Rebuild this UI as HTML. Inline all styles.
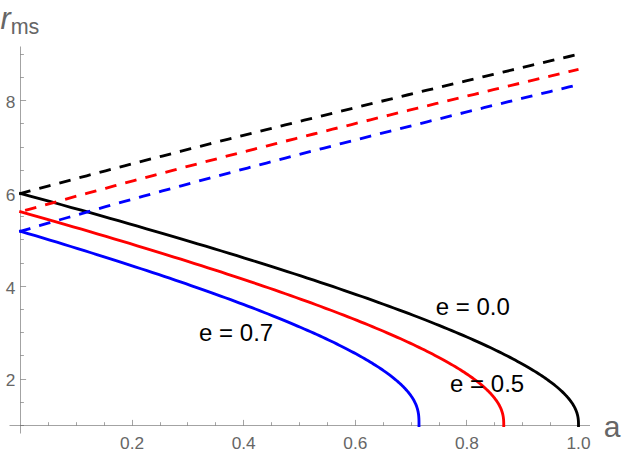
<!DOCTYPE html>
<html><head><meta charset="utf-8"><style>
html,body{margin:0;padding:0;background:#fff;}
svg{display:block;font-family:"Liberation Sans",sans-serif;}
</style></head><body>
<svg width="623" height="454" viewBox="0 0 623 454">
<rect width="623" height="454" fill="#ffffff"/>
<line x1="9.5" y1="425.5" x2="590" y2="425.5" stroke="#666666" stroke-opacity="0.6" stroke-width="1"/>
<line x1="20.5" y1="46.5" x2="20.5" y2="433.5" stroke="#666666" stroke-opacity="0.6" stroke-width="1"/>
<line x1="20.5" y1="425.5" x2="24" y2="425.5" stroke="#666666" stroke-opacity="0.6" stroke-width="1"/>
<line x1="48.50" y1="425.5" x2="48.50" y2="422.20" stroke="#666666" stroke-opacity="0.6" stroke-width="1"/>
<line x1="76.50" y1="425.5" x2="76.50" y2="422.20" stroke="#666666" stroke-opacity="0.6" stroke-width="1"/>
<line x1="104.50" y1="425.5" x2="104.50" y2="422.20" stroke="#666666" stroke-opacity="0.6" stroke-width="1"/>
<line x1="132.50" y1="425.5" x2="132.50" y2="419.90" stroke="#666666" stroke-opacity="0.6" stroke-width="1"/>
<line x1="160.50" y1="425.5" x2="160.50" y2="422.20" stroke="#666666" stroke-opacity="0.6" stroke-width="1"/>
<line x1="187.50" y1="425.5" x2="187.50" y2="422.20" stroke="#666666" stroke-opacity="0.6" stroke-width="1"/>
<line x1="215.50" y1="425.5" x2="215.50" y2="422.20" stroke="#666666" stroke-opacity="0.6" stroke-width="1"/>
<line x1="243.50" y1="425.5" x2="243.50" y2="419.90" stroke="#666666" stroke-opacity="0.6" stroke-width="1"/>
<line x1="271.50" y1="425.5" x2="271.50" y2="422.20" stroke="#666666" stroke-opacity="0.6" stroke-width="1"/>
<line x1="299.50" y1="425.5" x2="299.50" y2="422.20" stroke="#666666" stroke-opacity="0.6" stroke-width="1"/>
<line x1="327.50" y1="425.5" x2="327.50" y2="422.20" stroke="#666666" stroke-opacity="0.6" stroke-width="1"/>
<line x1="355.50" y1="425.5" x2="355.50" y2="419.90" stroke="#666666" stroke-opacity="0.6" stroke-width="1"/>
<line x1="383.50" y1="425.5" x2="383.50" y2="422.20" stroke="#666666" stroke-opacity="0.6" stroke-width="1"/>
<line x1="411.50" y1="425.5" x2="411.50" y2="422.20" stroke="#666666" stroke-opacity="0.6" stroke-width="1"/>
<line x1="439.50" y1="425.5" x2="439.50" y2="422.20" stroke="#666666" stroke-opacity="0.6" stroke-width="1"/>
<line x1="466.50" y1="425.5" x2="466.50" y2="419.90" stroke="#666666" stroke-opacity="0.6" stroke-width="1"/>
<line x1="494.50" y1="425.5" x2="494.50" y2="422.20" stroke="#666666" stroke-opacity="0.6" stroke-width="1"/>
<line x1="522.50" y1="425.5" x2="522.50" y2="422.20" stroke="#666666" stroke-opacity="0.6" stroke-width="1"/>
<line x1="550.50" y1="425.5" x2="550.50" y2="422.20" stroke="#666666" stroke-opacity="0.6" stroke-width="1"/>
<line x1="578.50" y1="425.5" x2="578.50" y2="419.90" stroke="#666666" stroke-opacity="0.6" stroke-width="1"/>
<line x1="20.5" y1="402.50" x2="23.90" y2="402.50" stroke="#666666" stroke-opacity="0.6" stroke-width="1"/>
<line x1="20.5" y1="379.50" x2="26.10" y2="379.50" stroke="#666666" stroke-opacity="0.6" stroke-width="1"/>
<line x1="20.5" y1="355.50" x2="23.90" y2="355.50" stroke="#666666" stroke-opacity="0.6" stroke-width="1"/>
<line x1="20.5" y1="332.50" x2="23.90" y2="332.50" stroke="#666666" stroke-opacity="0.6" stroke-width="1"/>
<line x1="20.5" y1="309.50" x2="23.90" y2="309.50" stroke="#666666" stroke-opacity="0.6" stroke-width="1"/>
<line x1="20.5" y1="286.50" x2="26.10" y2="286.50" stroke="#666666" stroke-opacity="0.6" stroke-width="1"/>
<line x1="20.5" y1="263.50" x2="23.90" y2="263.50" stroke="#666666" stroke-opacity="0.6" stroke-width="1"/>
<line x1="20.5" y1="239.50" x2="23.90" y2="239.50" stroke="#666666" stroke-opacity="0.6" stroke-width="1"/>
<line x1="20.5" y1="216.50" x2="23.90" y2="216.50" stroke="#666666" stroke-opacity="0.6" stroke-width="1"/>
<line x1="20.5" y1="193.50" x2="26.10" y2="193.50" stroke="#666666" stroke-opacity="0.6" stroke-width="1"/>
<line x1="20.5" y1="170.50" x2="23.90" y2="170.50" stroke="#666666" stroke-opacity="0.6" stroke-width="1"/>
<line x1="20.5" y1="147.50" x2="23.90" y2="147.50" stroke="#666666" stroke-opacity="0.6" stroke-width="1"/>
<line x1="20.5" y1="123.50" x2="23.90" y2="123.50" stroke="#666666" stroke-opacity="0.6" stroke-width="1"/>
<line x1="20.5" y1="100.50" x2="26.10" y2="100.50" stroke="#666666" stroke-opacity="0.6" stroke-width="1"/>
<line x1="20.5" y1="77.50" x2="23.90" y2="77.50" stroke="#666666" stroke-opacity="0.6" stroke-width="1"/>
<line x1="20.5" y1="54.50" x2="23.90" y2="54.50" stroke="#666666" stroke-opacity="0.6" stroke-width="1"/>
<path d="M19.25 193.16 L30.96 196.35 L41.29 199.17 L51.49 201.97 L61.56 204.75 L71.50 207.51 L81.32 210.24 L91.00 212.95 L100.56 215.64 L109.99 218.31 L119.30 220.96 L128.48 223.58 L137.54 226.18 L146.48 228.76 L155.30 231.31 L163.99 233.85 L172.57 236.36 L181.03 238.86 L189.37 241.33 L197.59 243.78 L205.69 246.21 L213.68 248.61 L221.55 251.00 L229.31 253.37 L236.96 255.71 L244.49 258.04 L251.91 260.34 L259.23 262.63 L266.43 264.89 L273.52 267.14 L280.50 269.36 L287.38 271.57 L294.15 273.75 L300.81 275.92 L307.37 278.06 L313.83 280.19 L320.18 282.29 L326.43 284.38 L332.58 286.45 L338.62 288.50 L344.57 290.53 L350.42 292.54 L356.17 294.53 L361.82 296.51 L367.38 298.46 L372.84 300.40 L378.20 302.32 L383.47 304.22 L388.65 306.10 L393.73 307.97 L398.73 309.81 L403.63 311.64 L408.44 313.45 L413.17 315.25 L417.80 317.02 L422.35 318.78 L426.81 320.52 L431.19 322.25 L435.48 323.95 L439.68 325.64 L443.81 327.32 L447.85 328.97 L451.81 330.61 L455.68 332.24 L459.48 333.84 L463.20 335.43 L466.84 337.01 L470.40 338.56 L473.89 340.11 L477.30 341.63 L480.64 343.14 L483.90 344.64 L487.09 346.12 L490.20 347.58 L493.25 349.03 L496.22 350.46 L499.13 351.88 L501.96 353.28 L504.73 354.66 L507.43 356.04 L510.06 357.39 L512.62 358.73 L515.13 360.06 L517.56 361.38 L519.94 362.67 L522.25 363.96 L524.50 365.23 L526.69 366.48 L528.82 367.72 L530.89 368.95 L532.90 370.17 L534.85 371.37 L536.75 372.55 L538.59 373.72 L540.38 374.88 L542.11 376.03 L543.79 377.16 L545.42 378.28 L546.99 379.39 L548.52 380.48 L549.99 381.56 L551.42 382.63 L552.79 383.68 L554.12 384.72 L555.40 385.75 L556.64 386.77 L557.83 387.77 L558.98 388.76 L560.09 389.74 L561.15 390.71 L562.17 391.66 L563.15 392.61 L564.09 393.54 L564.99 394.46 L565.85 395.37 L566.68 396.26 L567.46 397.15 L568.22 398.02 L568.93 398.89 L569.62 399.74 L570.27 400.58 L570.88 401.40 L571.47 402.22 L572.02 403.03 L572.55 403.83 L573.04 404.61 L573.51 405.39 L573.95 406.15 L574.36 406.90 L574.75 407.65 L575.11 408.38 L575.45 409.10 L575.77 409.82 L576.06 410.52 L576.33 411.21 L576.58 411.89 L576.81 412.57 L577.02 413.23 L577.21 413.88 L577.39 414.53 L577.55 415.16 L577.69 415.78 L577.82 416.40 L577.93 417.01 L578.03 417.60 L578.12 418.19 L578.20 418.77 L578.26 419.34 L578.32 419.90 L578.36 420.45 L578.40 420.99 L578.43 421.53 L578.45 422.06 L578.47 422.57 L578.48 423.08 L578.49 423.58 L578.50 424.07 L578.50 424.56 L578.50 425.03 L578.50 426.90" stroke="#000000" stroke-width="2.85" fill="none" stroke-linejoin="round"/>
<path d="M19.25 211.40 L29.56 214.31 L38.51 216.85 L47.34 219.37 L56.06 221.87 L64.67 224.34 L73.17 226.80 L81.56 229.24 L89.83 231.66 L98.00 234.06 L106.06 236.44 L114.02 238.81 L121.86 241.15 L129.60 243.47 L137.24 245.78 L144.77 248.06 L152.20 250.33 L159.52 252.58 L166.74 254.81 L173.86 257.02 L180.88 259.21 L187.80 261.38 L194.62 263.54 L201.34 265.68 L207.96 267.80 L214.48 269.90 L220.91 271.98 L227.24 274.05 L233.48 276.09 L239.62 278.13 L245.67 280.14 L251.62 282.13 L257.49 284.11 L263.26 286.07 L268.94 288.02 L274.53 289.94 L280.03 291.85 L285.44 293.75 L290.77 295.62 L296.00 297.48 L301.15 299.33 L306.22 301.15 L311.20 302.96 L316.09 304.76 L320.90 306.53 L325.63 308.30 L330.28 310.04 L334.84 311.77 L339.33 313.48 L343.73 315.18 L348.05 316.86 L352.30 318.53 L356.47 320.18 L360.56 321.82 L364.57 323.44 L368.51 325.04 L372.38 326.63 L376.16 328.21 L379.88 329.77 L383.52 331.31 L387.09 332.84 L390.59 334.36 L394.02 335.86 L397.38 337.35 L400.67 338.82 L403.89 340.28 L407.04 341.72 L410.13 343.15 L413.15 344.56 L416.10 345.97 L418.99 347.35 L421.82 348.73 L424.58 350.09 L427.28 351.43 L429.91 352.77 L432.49 354.08 L435.00 355.39 L437.46 356.68 L439.85 357.96 L442.19 359.23 L444.47 360.48 L446.69 361.72 L448.86 362.95 L450.97 364.17 L453.02 365.37 L455.03 366.56 L456.97 367.73 L458.87 368.90 L460.71 370.05 L462.51 371.19 L464.25 372.32 L465.94 373.44 L467.58 374.54 L469.18 375.63 L470.73 376.71 L472.23 377.78 L473.68 378.84 L475.09 379.88 L476.45 380.92 L477.77 381.94 L479.05 382.95 L480.29 383.95 L481.48 384.94 L482.63 385.92 L483.74 386.88 L484.81 387.84 L485.84 388.78 L486.84 389.72 L487.79 390.64 L488.71 391.55 L489.60 392.46 L490.45 393.35 L491.26 394.23 L492.04 395.10 L492.79 395.96 L493.50 396.82 L494.18 397.66 L494.84 398.49 L495.46 399.31 L496.05 400.12 L496.61 400.92 L497.15 401.72 L497.65 402.50 L498.13 403.27 L498.59 404.04 L499.02 404.79 L499.42 405.54 L499.80 406.28 L500.16 407.00 L500.50 407.72 L500.81 408.43 L501.10 409.13 L501.38 409.83 L501.63 410.51 L501.86 411.19 L502.08 411.85 L502.28 412.51 L502.46 413.16 L502.63 413.80 L502.78 414.44 L502.92 415.06 L503.04 415.68 L503.15 416.29 L503.25 416.89 L503.34 417.48 L503.41 418.07 L503.48 418.65 L503.53 419.22 L503.58 419.78 L503.62 420.34 L503.65 420.89 L503.68 421.43 L503.70 421.96 L503.72 422.49 L503.73 423.01 L503.73 423.52 L503.74 424.02 L503.74 424.52 L503.74 425.01 L503.74 426.90" stroke="#ff0000" stroke-width="2.85" fill="none" stroke-linejoin="round"/>
<path d="M19.25 230.94 L27.97 233.52 L35.35 235.73 L42.63 237.91 L49.82 240.08 L56.92 242.23 L63.93 244.37 L70.85 246.49 L77.67 248.59 L84.41 250.68 L91.06 252.75 L97.62 254.80 L104.09 256.84 L110.47 258.86 L116.77 260.86 L122.98 262.85 L129.10 264.83 L135.14 266.79 L141.09 268.73 L146.96 270.66 L152.75 272.57 L158.46 274.47 L164.08 276.35 L169.62 278.21 L175.08 280.07 L180.46 281.90 L185.76 283.72 L190.98 285.53 L196.13 287.32 L201.19 289.10 L206.18 290.86 L211.09 292.61 L215.92 294.34 L220.68 296.06 L225.37 297.76 L229.98 299.45 L234.51 301.13 L238.98 302.79 L243.37 304.44 L247.69 306.07 L251.93 307.69 L256.11 309.29 L260.22 310.89 L264.25 312.46 L268.22 314.03 L272.12 315.58 L275.95 317.12 L279.71 318.64 L283.41 320.15 L287.04 321.65 L290.61 323.14 L294.11 324.61 L297.55 326.07 L300.92 327.51 L304.23 328.94 L307.48 330.37 L310.66 331.77 L313.79 333.17 L316.85 334.55 L319.86 335.92 L322.80 337.28 L325.69 338.62 L328.51 339.96 L331.28 341.28 L334.00 342.59 L336.65 343.88 L339.25 345.17 L341.80 346.44 L344.29 347.70 L346.72 348.95 L349.10 350.19 L351.43 351.42 L353.71 352.63 L355.94 353.84 L358.11 355.03 L360.23 356.21 L362.31 357.38 L364.33 358.54 L366.31 359.69 L368.23 360.83 L370.11 361.95 L371.95 363.07 L373.73 364.17 L375.47 365.27 L377.17 366.35 L378.82 367.42 L380.43 368.49 L381.99 369.54 L383.51 370.58 L384.99 371.62 L386.42 372.64 L387.82 373.65 L389.18 374.65 L390.49 375.65 L391.77 376.63 L393.00 377.60 L394.20 378.57 L395.37 379.52 L396.49 380.47 L397.58 381.40 L398.63 382.33 L399.65 383.25 L400.63 384.15 L401.58 385.05 L402.50 385.94 L403.38 386.83 L404.23 387.70 L405.05 388.56 L405.84 389.42 L406.60 390.27 L407.33 391.10 L408.03 391.94 L408.70 392.76 L409.34 393.57 L409.96 394.38 L410.55 395.18 L411.11 395.97 L411.65 396.75 L412.16 397.53 L412.65 398.29 L413.11 399.05 L413.55 399.81 L413.97 400.55 L414.37 401.29 L414.74 402.02 L415.10 402.75 L415.43 403.47 L415.74 404.18 L416.04 404.88 L416.32 405.58 L416.57 406.28 L416.82 406.96 L417.04 407.64 L417.25 408.32 L417.44 408.99 L417.62 409.65 L417.79 410.31 L417.94 410.97 L418.07 411.62 L418.20 412.26 L418.31 412.90 L418.41 413.54 L418.50 414.17 L418.59 414.80 L418.66 415.43 L418.72 416.06 L418.77 416.68 L418.82 417.30 L418.86 417.92 L418.89 418.55 L418.92 419.17 L418.94 419.80 L418.96 420.43 L418.97 421.07 L418.98 421.72 L418.99 422.38 L418.99 423.07 L418.99 423.79 L418.99 424.57 L418.99 426.90" stroke="#0000ff" stroke-width="2.85" fill="none" stroke-linejoin="round"/>
<path d="M19.25 193.84 L29.96 190.94 L39.42 188.38 L48.87 185.84 L58.33 183.31 L67.79 180.78 L77.25 178.27 L86.70 175.76 L96.16 173.26 L105.62 170.77 L115.08 168.29 L124.53 165.82 L133.99 163.36 L143.45 160.90 L152.91 158.45 L162.36 156.01 L171.82 153.58 L181.28 151.15 L190.74 148.73 L200.19 146.32 L209.65 143.91 L219.11 141.51 L228.57 139.12 L238.03 136.73 L247.48 134.35 L256.94 131.98 L266.40 129.61 L275.86 127.25 L285.31 124.89 L294.77 122.54 L304.23 120.20 L313.69 117.86 L323.14 115.52 L332.60 113.19 L342.06 110.87 L351.52 108.55 L360.97 106.24 L370.43 103.93 L379.89 101.63 L389.35 99.33 L398.81 97.04 L408.26 94.75 L417.72 92.47 L427.18 90.19 L436.64 87.91 L446.09 85.65 L455.55 83.38 L465.01 81.12 L474.47 78.86 L483.92 76.61 L493.38 74.36 L502.84 72.12 L512.30 69.87 L521.75 67.64 L531.21 65.41 L540.67 63.18 L550.13 60.95 L559.58 58.73 L569.04 56.51 L578.50 54.30" stroke="#000000" stroke-width="2.85" fill="none" stroke-dasharray="11.6 9.17" stroke-dashoffset="0"/>
<path d="M19.25 212.10 L29.96 209.09 L39.42 206.45 L48.87 203.82 L58.33 201.19 L67.79 198.58 L77.25 195.99 L86.70 193.40 L96.16 190.82 L105.62 188.26 L115.08 185.70 L124.53 183.15 L133.99 180.62 L143.45 178.09 L152.91 175.57 L162.36 173.06 L171.82 170.56 L181.28 168.07 L190.74 165.59 L200.19 163.11 L209.65 160.65 L219.11 158.19 L228.57 155.74 L238.03 153.29 L247.48 150.86 L256.94 148.43 L266.40 146.01 L275.86 143.59 L285.31 141.18 L294.77 138.78 L304.23 136.39 L313.69 134.00 L323.14 131.62 L332.60 129.24 L342.06 126.87 L351.52 124.51 L360.97 122.15 L370.43 119.80 L379.89 117.45 L389.35 115.11 L398.81 112.77 L408.26 110.44 L417.72 108.12 L427.18 105.80 L436.64 103.48 L446.09 101.18 L455.55 98.87 L465.01 96.57 L474.47 94.28 L483.92 91.99 L493.38 89.70 L502.84 87.42 L512.30 85.15 L521.75 82.87 L531.21 80.61 L540.67 78.34 L550.13 76.09 L559.58 73.83 L569.04 71.58 L578.50 69.34" stroke="#ff0000" stroke-width="2.85" fill="none" stroke-dasharray="11.6 9.17" stroke-dashoffset="-6.1"/>
<path d="M19.25 231.67 L29.96 228.51 L39.42 225.74 L48.87 222.98 L58.33 220.23 L67.79 217.50 L77.25 214.79 L86.70 212.09 L96.16 209.41 L105.62 206.73 L115.08 204.07 L124.53 201.43 L133.99 198.79 L143.45 196.17 L152.91 193.56 L162.36 190.96 L171.82 188.37 L181.28 185.80 L190.74 183.23 L200.19 180.67 L209.65 178.13 L219.11 175.59 L228.57 173.06 L238.03 170.54 L247.48 168.03 L256.94 165.53 L266.40 163.04 L275.86 160.56 L285.31 158.08 L294.77 155.61 L304.23 153.15 L313.69 150.70 L323.14 148.26 L332.60 145.82 L342.06 143.39 L351.52 140.97 L360.97 138.56 L370.43 136.15 L379.89 133.74 L389.35 131.35 L398.81 128.96 L408.26 126.58 L417.72 124.20 L427.18 121.83 L436.64 119.47 L446.09 117.11 L455.55 114.76 L465.01 112.41 L474.47 110.07 L483.92 107.73 L493.38 105.40 L502.84 103.08 L512.30 100.76 L521.75 98.44 L531.21 96.14 L540.67 93.83 L550.13 91.53 L559.58 89.24 L569.04 86.95 L578.50 84.66" stroke="#0000ff" stroke-width="2.85" fill="none" stroke-dasharray="11.6 9.17" stroke-dashoffset="0"/>
<g><text x="132.1" y="449.0" font-size="17.3" text-anchor="middle" fill="#666666">0.2</text>
<text x="243.7" y="449.0" font-size="17.3" text-anchor="middle" fill="#666666">0.4</text>
<text x="355.3" y="449.0" font-size="17.3" text-anchor="middle" fill="#666666">0.6</text>
<text x="466.9" y="449.0" font-size="17.3" text-anchor="middle" fill="#666666">0.8</text>
<text x="578.5" y="449.0" font-size="17.3" text-anchor="middle" fill="#666666">1.0</text>
<text x="15.3" y="386.4" font-size="17.3" text-anchor="end" fill="#666666">2</text>
<text x="15.3" y="293.6" font-size="17.3" text-anchor="end" fill="#666666">4</text>
<text x="15.3" y="200.8" font-size="17.3" text-anchor="end" fill="#666666">6</text>
<text x="15.3" y="108.0" font-size="17.3" text-anchor="end" fill="#666666">8</text>
<text x="603.7" y="436.9" font-size="30" text-anchor="start" fill="#666666">a</text>
<text x="0.5" y="29" font-size="30.5" fill="#666666"><tspan font-style="italic">r</tspan><tspan dy="5.2" font-size="21.5">ms</tspan></text>
<text x="435.8" y="314.9" font-size="24" text-anchor="start" fill="#000">e = 0.0</text>
<text x="199.1" y="340.6" font-size="24" text-anchor="start" fill="#000">e = 0.7</text>
<text x="450.1" y="392.1" font-size="24" text-anchor="start" fill="#000">e = 0.5</text></g>
</svg>
</body></html>
